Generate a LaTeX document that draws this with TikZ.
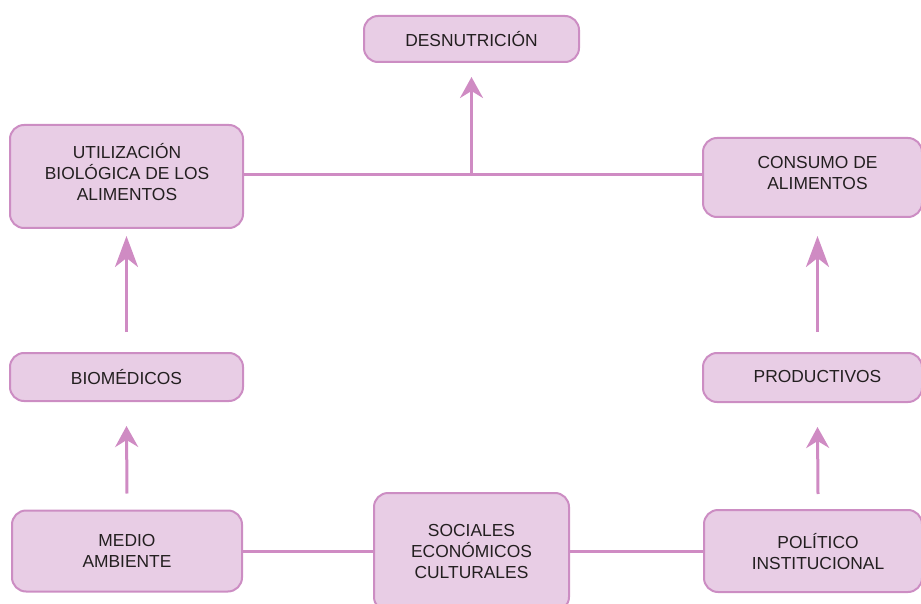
\documentclass[tikz,border=0pt]{standalone}
\usepackage{fontspec}
\setmainfont{Liberation Sans}
\usetikzlibrary{arrows.meta}
\definecolor{boxfill}{HTML}{E8CDE5}
\definecolor{boxline}{HTML}{CC8DC3}
\definecolor{conline}{HTML}{CF8BC3}
\definecolor{txt}{HTML}{231F20}
\tikzset{
  box/.style={draw=boxline, line width=2pt, fill=boxfill, rounded corners=14pt,
    inner sep=0pt, align=center, text=txt,
    font=\fontsize{17.4}{21}\selectfont},
  rtext/.style={text=txt, align=center, font=\fontsize{17.4}{21}\selectfont, inner sep=0pt},
  conn/.style={draw=conline, line width=3pt},
  arrS/.style={conn, -{Stealth[length=21pt,width=23pt,inset=7pt]}},
  arrL/.style={conn, -{Stealth[length=31pt,width=23pt,inset=9pt]}},
}
\begin{document}
\begin{tikzpicture}[x=1pt,y=-1pt]
\useasboundingbox (0,0) rectangle (921,604);
\clip (0,0) rectangle (921,604);
% boxes
\node[box, minimum width=215pt, minimum height=46pt] (desn) at (471.5,39) {DESNUTRICIÓN};
\node[box, minimum width=233pt, minimum height=103pt] (util) at (126.5,176.5) {};
\node[rtext] (utilT) at (127,172.5) {UTILIZACIÓN\\BIOLÓGICA DE LOS\\ALIMENTOS};
\node[box, minimum width=219pt, minimum height=79pt] (cons) at (812.5,177.5) {};
\node[rtext] (consT) at (817.5,173.5) {CONSUMO DE\\ALIMENTOS};
\node[box, minimum width=233pt, minimum height=48pt] (bio) at (126.5,377) {BIOMÉDICOS};
\node[box, minimum width=219pt, minimum height=49pt] (prod) at (812.5,377.5) {};
\node[rtext] (prodT) at (817.5,377) {PRODUCTIVOS};
\node[box, minimum width=230pt, minimum height=81pt] (medio) at (127,551) {MEDIO\\AMBIENTE};
\node[box, minimum width=218pt, minimum height=82pt] (pol) at (813,551) {};
\node[rtext] (polT) at (818,551.5) {POLÍTICO\\INSTITUCIONAL};
\node[box, minimum width=195pt, minimum height=118pt] (soc) at (471.5,552) {SOCIALES\\ECONÓMICOS\\CULTURALES};
% connectors
\coordinate (j) at (471.5,175);
\draw[conn] (util.east |- j) -- (cons.west |- j);
\draw[arrS] (j) -- ([yshift=-14pt]desn.south);
\draw[arrL] ([yshift=20pt]bio.north) -- ([yshift=-7pt]util.south);
\draw[arrS] ([yshift=16pt]medio.north) -- ([yshift=-24pt]bio.south);
\draw[arrL] ([xshift=5pt,yshift=20pt]prod.north) -- ([xshift=5pt,yshift=-18pt]cons.south);
\draw[arrS] ([xshift=5pt,yshift=15pt]pol.north) -- ([xshift=5pt,yshift=-24pt]prod.south);
\draw[conn] (medio.east) -- (soc.west |- medio.east);
\draw[conn] (soc.east |- pol.west) -- (pol.west);
\end{tikzpicture}
\end{document}
